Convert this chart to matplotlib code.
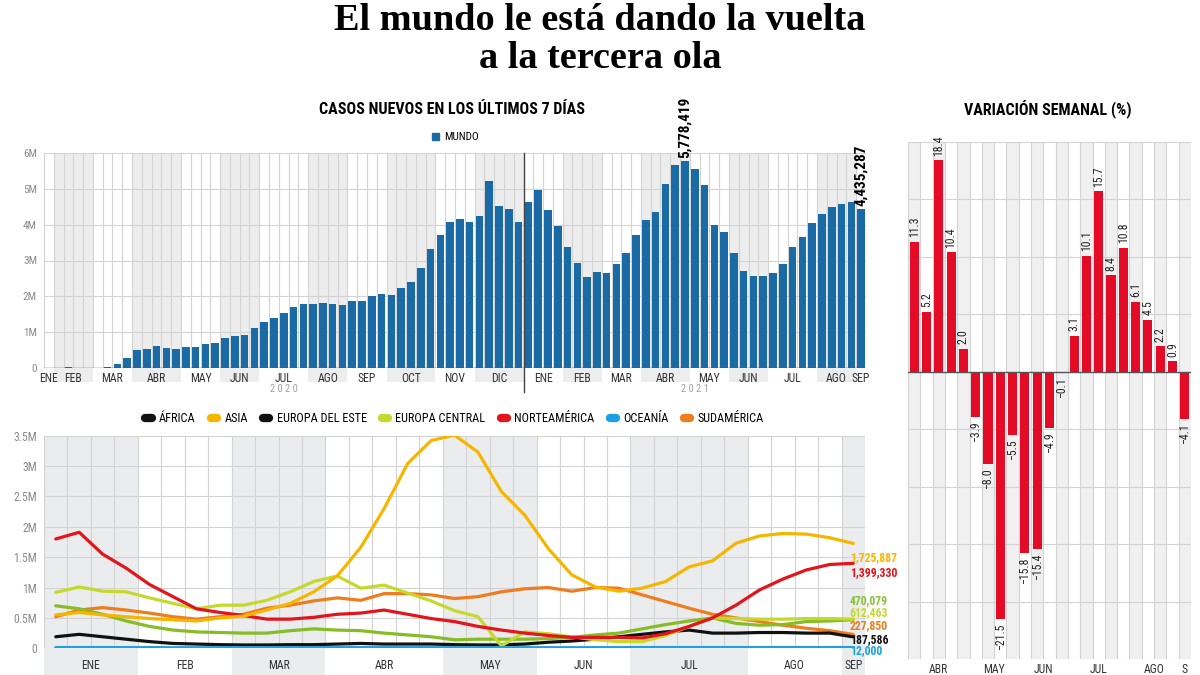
import matplotlib
matplotlib.use("Agg")
import matplotlib.pyplot as plt
from matplotlib import font_manager, transforms
from matplotlib.lines import Line2D
from matplotlib.patches import Patch
import numpy as np

# ------------------------------------------------------------------ data
MONTHS_TOP = ["ENE", "FEB", "MAR", "ABR", "MAY", "JUN", "JUL", "AGO", "SEP", "OCT", "NOV", "DIC",
              "ENE", "FEB", "MAR", "ABR", "MAY", "JUN", "JUL", "AGO", "SEP"]
WEEKS_TOP = [1, 4, 4, 5, 4, 4, 5, 4, 4, 5, 4, 5,
             4, 4, 4, 5, 4, 4, 5, 4, 1]
YEARS = ["2 0 2 0", "2 0 2 1"]
WEEKS_PER_YEAR = [49, 35]

# weekly new cases, world (millions)
MUNDO_2020 = [0.002, 0.012, 0.018, 0.010, 0.008, 0.012, 0.03, 0.11, 0.29, 0.49, 0.54, 0.62,
              0.55, 0.54, 0.58, 0.60, 0.66, 0.71, 0.84, 0.89, 0.93, 1.12, 1.29, 1.39, 1.54,
              1.70, 1.80, 1.80, 1.81, 1.79, 1.76, 1.87, 1.87, 2.01, 2.06, 2.05, 2.23, 2.41,
              2.79, 3.33, 3.72, 4.08, 4.15, 4.08, 4.24, 5.21, 4.51, 4.43, 4.08]
MUNDO_2021 = [4.62, 4.98, 4.41, 3.95, 3.39, 2.93, 2.53, 2.67, 2.64, 2.89, 3.22, 3.70, 4.12,
              4.34, 5.13, 5.66, 5.778419, 5.56, 5.11, 4.00, 3.79, 3.20, 2.71, 2.57, 2.57,
              2.64, 2.91, 3.39, 3.66, 4.04, 4.30, 4.49, 4.58, 4.63, 4.435287]
PEAK_LABEL = "5,778,419"
LAST_LABEL = "4,435,287"

MONTHS_LINE = ["ENE", "FEB", "MAR", "ABR", "MAY", "JUN", "JUL", "AGO", "SEP"]
WEEKS_LINE = [4, 4, 4, 5, 4, 4, 5, 4, 1]
REGIONS = ["ÁFRICA", "ASIA", "EUROPA DEL ESTE", "EUROPA CENTRAL", "NORTEAMÉRICA", "OCEANÍA", "SUDAMÉRICA"]
AFRICA = [0.19, 0.23, 0.19, 0.15, 0.11, 0.08, 0.07, 0.06, 0.055,
          0.055, 0.06, 0.06, 0.07, 0.08, 0.07, 0.07, 0.07, 0.06,
          0.055, 0.055, 0.07, 0.10, 0.12, 0.15, 0.19, 0.23, 0.27,
          0.30, 0.25, 0.25, 0.26, 0.26, 0.25, 0.25, 0.188]
ASIA = [0.55, 0.59, 0.55, 0.52, 0.49, 0.47, 0.45, 0.50, 0.53,
        0.63, 0.74, 0.93, 1.19, 1.66, 2.30, 3.04, 3.42, 3.51,
        3.23, 2.58, 2.19, 1.64, 1.21, 1.01, 0.94, 0.99, 1.10,
        1.34, 1.44, 1.73, 1.85, 1.89, 1.88, 1.82, 1.726]
EUROPA_ESTE = [0.70, 0.65, 0.56, 0.45, 0.36, 0.30, 0.27, 0.26, 0.25,
               0.25, 0.29, 0.32, 0.30, 0.29, 0.25, 0.22, 0.19, 0.14,
               0.15, 0.15, 0.15, 0.16, 0.18, 0.22, 0.25, 0.32, 0.39,
               0.45, 0.50, 0.41, 0.38, 0.39, 0.44, 0.45, 0.47]
EUROPA_CENTRAL = [0.92, 1.01, 0.94, 0.93, 0.83, 0.74, 0.65, 0.71, 0.71,
                  0.79, 0.93, 1.10, 1.19, 0.99, 1.04, 0.91, 0.78, 0.62,
                  0.52, 0.04, 0.27, 0.24, 0.19, 0.14, 0.11, 0.11, 0.21,
                  0.36, 0.50, 0.49, 0.48, 0.48, 0.49, 0.49, 0.48]
NORTEAMERICA = [1.80, 1.91, 1.55, 1.32, 1.05, 0.85, 0.65, 0.59, 0.54,
                0.48, 0.48, 0.51, 0.56, 0.58, 0.63, 0.56, 0.49, 0.44,
                0.36, 0.30, 0.25, 0.21, 0.18, 0.18, 0.18, 0.17, 0.24,
                0.36, 0.50, 0.71, 0.96, 1.14, 1.29, 1.38, 1.399]
OCEANIA = [0.012, 0.012, 0.012, 0.011, 0.011, 0.010, 0.010, 0.010, 0.010,
           0.010, 0.010, 0.011, 0.011, 0.011, 0.011, 0.011, 0.010, 0.010,
           0.010, 0.010, 0.010, 0.010, 0.010, 0.011, 0.011, 0.012, 0.012,
           0.012, 0.012, 0.012, 0.012, 0.012, 0.012, 0.012, 0.012]
SUDAMERICA = [0.52, 0.63, 0.67, 0.63, 0.58, 0.52, 0.48, 0.52, 0.56,
              0.66, 0.71, 0.78, 0.83, 0.79, 0.90, 0.90, 0.88, 0.82,
              0.85, 0.93, 0.98, 1.00, 0.94, 1.00, 0.99, 0.88, 0.77,
              0.66, 0.56, 0.50, 0.44, 0.38, 0.33, 0.29, 0.228]
END_LABELS = ["1,725,887", "1,399,330", "470,079", "612,463", "227,850", "187,586", "12,000"]

MONTHS_VAR = ["ABR", "MAY", "JUN", "JUL", "AGO", "S"]
WEEKS_VAR = [5, 4, 4, 5, 4, 1]
VARIACION = [11.3, 5.2, 18.4, 10.4, 2.0, -3.9, -8.0, -21.5, -5.5, -15.8, -15.4, -4.9,
             -0.1, 3.1, 10.1, 15.7, 8.4, 10.8, 6.1, 4.5, 2.2, 0.9, -4.1]

# ------------------------------------------------------------------ style
names = {f.name for f in font_manager.fontManager.ttflist}
COND = "DejaVu Sans"
for cand in ["Liberation Sans Narrow", "Roboto Condensed", "Open Sans Condensed", "Noto Sans Condensed"]:
    if cand in names:
        COND = cand
        break
plt.rcParams["font.family"] = [COND, "DejaVu Sans"]
SERIF = "Liberation Serif" if "Liberation Serif" in names else "DejaVu Serif"

BLUE = "#1a6aa6"
RED = "#e30b25"
GRID = "#d3d3d3"
SHADE = "#ededed"
C_BLACK = "#111111"
C_ASIA = "#f6b600"
C_EESTE = "#86bc25"
C_ECENT = "#c5d92d"
C_NA = "#e3141b"
C_OCE = "#1ba1e2"
C_SUD = "#ef7d1f"

fig = plt.figure(figsize=(12, 6.75), dpi=100)
W, H = 1200, 675


def px_axes(l, t, r, b):
    return fig.add_axes([l / W, 1 - b / H, (r - l) / W, (b - t) / H])


def group_bounds(weeks):
    edges = np.concatenate([[0], np.cumsum(weeks)]) - 0.5
    centers = (edges[:-1] + edges[1:]) / 2
    return edges, centers


# ------------------------------------------------------------------ titles
fig.text(0.5, 1 - 20 / H, "El mundo le está dando la vuelta", ha="center", va="center",
         fontsize=27.5, fontweight="bold", family=SERIF)
fig.text(0.5, 1 - 58 / H, "a la tercera ola", ha="center", va="center",
         fontsize=27.5, fontweight="bold", family=SERIF)
fig.text(452 / W, 1 - 110 / H, "CASOS NUEVOS EN LOS ÚLTIMOS 7 DÍAS", ha="center", va="center",
         fontsize=11.5, fontweight="bold")
fig.text(1048 / W, 1 - 110 / H, "VARIACIÓN SEMANAL (%)", ha="center", va="center",
         fontsize=11.5, fontweight="bold")

# ------------------------------------------------------------------ top bars
ax1 = px_axes(44, 153, 866, 368)
mundo = np.array(MUNDO_2020 + MUNDO_2021)
x1 = np.arange(len(mundo))
edges, centers = group_bounds(WEEKS_TOP)
for i in range(len(WEEKS_TOP)):
    if i % 2 == 1:
        ax1.axvspan(edges[i], edges[i + 1], ymin=-0.065, ymax=1, color=SHADE, lw=0,
                    zorder=0, clip_on=False)
for k in range(len(mundo) + 1):
    ax1.axvline(k - 0.5, color=GRID, lw=0.8, zorder=1)
for yv in range(1, 7):
    ax1.axhline(yv, color=GRID, lw=0.8, zorder=1)
ax1.bar(x1, mundo, width=0.78, color=BLUE, zorder=3)
ax1.axhline(0, color="#555555", lw=1.0, zorder=4)
yb = WEEKS_PER_YEAR[0] - 0.5
ax1.axvline(yb, ymin=-0.11, ymax=1, color="#444444", lw=1.0, zorder=4, clip_on=False)
ax1.set_xlim(-0.5, len(mundo) - 0.5)
ax1.set_ylim(0, 6)
ax1.set_yticks(range(7))
ax1.set_yticklabels(["0"] + [f"{v}M" for v in range(1, 7)])
ax1.set_xticks(centers)
ax1.set_xticklabels(MONTHS_TOP)
ax1.tick_params(axis="y", length=0, pad=5, labelsize=8, labelcolor="#8a8a8a")
ax1.tick_params(axis="x", length=0, pad=3, labelsize=8.5, labelcolor="#333333")
for s in ax1.spines.values():
    s.set_visible(False)
tr1 = transforms.blended_transform_factory(ax1.transData, ax1.transAxes)
yedges = np.concatenate([[0], np.cumsum(WEEKS_PER_YEAR)]) - 0.5
for i, lab in enumerate(YEARS):
    ax1.text((yedges[i] + yedges[i + 1]) / 2, -0.1, lab, transform=tr1, ha="center",
             va="center", fontsize=7.5, color="#a0a0a0")
ipeak = int(np.argmax(mundo))
ax1.text(ipeak, mundo[ipeak] + 0.08, PEAK_LABEL, rotation=90, ha="center", va="bottom",
         fontsize=11, fontweight="bold", clip_on=False)
ax1.text(x1[-1], mundo[-1] + 0.08, LAST_LABEL, rotation=90, ha="center", va="bottom",
         fontsize=11, fontweight="bold", clip_on=False)
ax1.legend(handles=[Patch(color=BLUE, label="MUNDO")], loc="lower center",
           bbox_to_anchor=(0.5, 1.0), frameon=False, fontsize=8, handlelength=0.7,
           handleheight=0.7, handletextpad=0.4, borderaxespad=0.55)

# ------------------------------------------------------------------ lines
ax2 = px_axes(44, 435.7, 865, 648.3)
series = [AFRICA, ASIA, EUROPA_ESTE, EUROPA_CENTRAL, NORTEAMERICA, OCEANIA, SUDAMERICA]
line_colors = [C_BLACK, C_ASIA, C_EESTE, C_ECENT, C_NA, C_OCE, C_SUD]
legend_colors = [C_BLACK, C_ASIA, C_BLACK, C_ECENT, C_NA, C_OCE, C_SUD]
zorders = [5, 9, 6, 7, 8, 10, 4]
x2 = np.arange(len(ASIA))
edges2, centers2 = group_bounds(WEEKS_LINE)
for i in range(len(WEEKS_LINE)):
    if i % 2 == 0:
        ax2.axvspan(edges2[i], edges2[i + 1], ymin=-0.13, ymax=1, color="#eaecee", lw=0,
                    zorder=0, clip_on=False)
for k in range(len(x2) + 1):
    ax2.axvline(k - 0.5, color=GRID, lw=0.8, zorder=1)
for yv in np.arange(0.5, 3.51, 0.5):
    ax2.axhline(yv, color=GRID, lw=0.8, zorder=1)
for vals, c, z in zip(series, line_colors, zorders):
    ax2.plot(x2, vals, color=c, lw=2.3, solid_capstyle="round", solid_joinstyle="round",
             zorder=z)
ax2.set_xlim(-0.5, len(x2) - 0.5)
ax2.set_ylim(0, 3.5)
yt = np.arange(0, 3.51, 0.5)
ax2.set_yticks(yt)
ax2.set_yticklabels(["0"] + [(f"{v:g}M") for v in yt[1:]])
ax2.set_xticks(centers2)
ax2.set_xticklabels(MONTHS_LINE)
ax2.tick_params(axis="y", length=0, pad=5, labelsize=8.5, labelcolor="#8a8a8a")
ax2.tick_params(axis="x", length=0, pad=8, labelsize=8.5, labelcolor="#333333")
for s in ax2.spines.values():
    s.set_visible(False)
end_colors = [C_ASIA, C_NA, "#8cc03a", C_ECENT, C_SUD, C_BLACK, C_OCE]
end_y = [1.50, 1.24, 0.79, 0.59, 0.37, 0.14, -0.045]
for lab, c, yv in zip(END_LABELS, end_colors, end_y):
    ax2.text(33.85, yv, lab, color=c, fontsize=8.5, fontweight="bold", ha="left",
             va="center", clip_on=False, zorder=12)
handles = [Line2D([0], [0], color=c, lw=6, solid_capstyle="round", label=r)
           for r, c in zip(REGIONS, legend_colors)]
ax2.legend(handles=handles, loc="lower center", bbox_to_anchor=(0.5, 1.0), ncol=7,
           frameon=False, fontsize=8.8, handlelength=0.5, handletextpad=0.6,
           columnspacing=1.25, borderaxespad=0.45)

# ------------------------------------------------------------------ variation
ax3 = px_axes(908, 141.7, 1191, 659.3)
x3 = np.arange(len(VARIACION))
for k in x3:
    if k % 2 == 0:
        ax3.axvspan(k - 0.5, k + 0.5, color="#f0f0f0", lw=0, zorder=0)
for k in range(len(x3) + 1):
    ax3.axvline(k - 0.5, color=GRID, lw=0.8, zorder=1)
for yv in range(-25, 21, 5):
    ax3.axhline(yv, color=GRID, lw=0.8, zorder=1)
ax3.bar(x3, VARIACION, width=0.74, color=RED, zorder=3)
ax3.axhline(0, color="#555555", lw=1.0, zorder=4)
for k, v in zip(x3, VARIACION):
    txt = f"{v:.1f}".replace("-", "\u2212")
    if v >= 0:
        ax3.text(k, v + 0.4, txt, rotation=90, ha="center", va="bottom", fontsize=8.5,
                 color="#222222", zorder=5)
    else:
        ax3.text(k, v - 0.4, txt, rotation=90, ha="center", va="top", fontsize=8.5,
                 color="#222222", zorder=5)
edges3, centers3 = group_bounds(WEEKS_VAR)
ax3.set_xlim(-0.5, len(x3) - 0.5)
ax3.set_ylim(-25, 20)
ax3.set_yticks([])
ax3.set_xticks(centers3)
ax3.set_xticklabels(MONTHS_VAR)
ax3.tick_params(axis="x", length=0, pad=3, labelsize=8.5, labelcolor="#333333")
for s in ax3.spines.values():
    s.set_visible(False)

fig.savefig("out.png", dpi=100)
